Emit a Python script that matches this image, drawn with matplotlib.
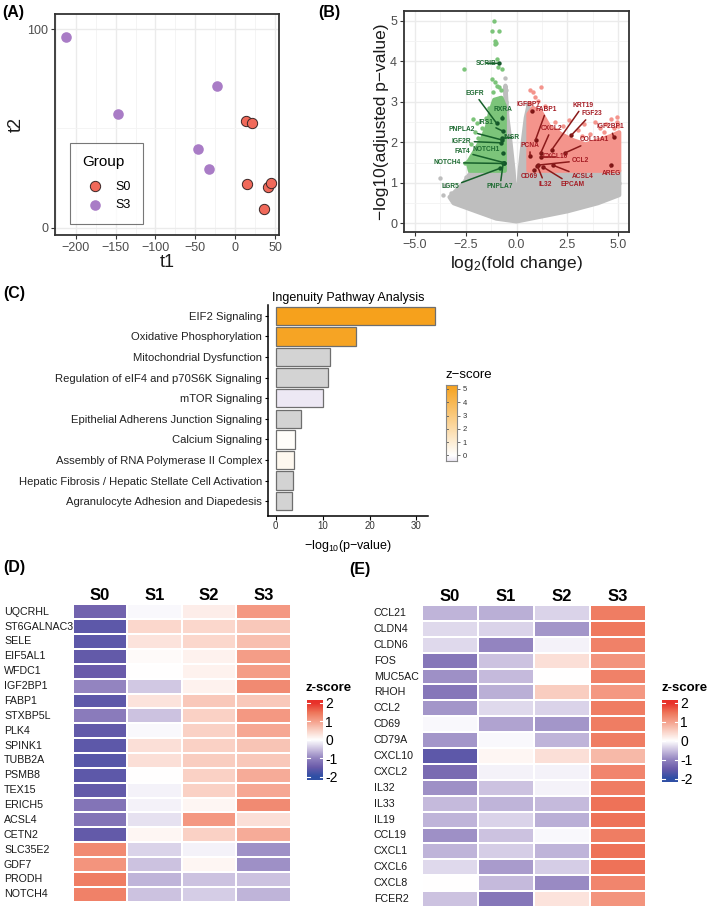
import numpy as np
import matplotlib
matplotlib.use("Agg")
import matplotlib.pyplot as plt
from matplotlib import font_manager
from matplotlib import transforms
from matplotlib.colors import LinearSegmentedColormap, Normalize

# ---------------- data ----------------
# (A) PCA scores
pca_t1_s0 = [14.0, 20.7, 14.8, 40.8, 45.0, 36.2]
pca_t2_s0 = [53.6, 52.9, 21.8, 20.7, 22.5, 9.4]
pca_t1_s3 = [-212.0, -147.0, -23.0, -46.0, -32.5]
pca_t2_s3 = [96.3, 57.3, 71.4, 39.7, 29.6]

# (B) volcano: outline of the dense non-significant cloud, dense significant areas, sparse points
gray_cloud_x = [-3.3, -3.1, -2.0, -1.0, 0.0, 1.0, 2.5, 4.0, 5.05, 5.05, 0.58, 0.58, 0.45, 0.3,
                0.15, 0.0, -0.15, -0.3, -0.45, -0.55, -0.6, -2.2, -2.6, -3.0]
gray_cloud_y = [0.65, 0.5, 0.3, 0.12, 0.05, 0.15, 0.3, 0.5, 0.7, 1.3, 1.3, 2.9, 2.6, 2.0,
                1.3, 0.3, 1.3, 2.0, 2.6, 3.4, 1.3, 1.3, 1.0, 0.8]
gray_pts_x = [-3.77, -3.53, -2.95, -2.7, -2.29, -3.25, -0.55, -0.5, -0.52, -0.47, 0.5, 0.55,
              5.05, 5.0, -3.6, -2.5, -1.9]
gray_pts_y = [1.11, 0.95, 0.62, 0.95, 1.24, 0.75, 3.6, 3.3, 3.0, 2.8, 2.95, 2.75,
              1.0, 0.8, 0.7, 1.15, 1.25]

green_cloud_x = [-0.58, -2.3, -2.4, -2.1, -1.7, -1.45, -1.3, -1.1, -0.75, -0.58]
green_cloud_y = [1.3, 1.3, 1.5, 1.75, 2.1, 2.4, 2.75, 3.05, 3.1, 2.9]
green_pts_x = [-1.11, -1.2, -0.87, -1.08, -1.0, -1.05, -0.98, -2.57, -0.74, -0.9, -1.23, -1.05,
               -0.95, -0.85, -0.75, -1.15, -0.8, -0.7, -1.05, -2.16, -1.97, -2.46, -2.54,
               -1.7, -1.5, -2.25, -1.9, -1.35, -2.05]
green_pts_y = [4.99, 4.75, 4.75, 4.5, 4.45, 4.42, 4.05, 3.8, 3.8, 3.85, 3.56, 3.5,
               3.4, 3.37, 3.29, 3.25, 3.1, 3.0, 2.95, 2.57, 2.47, 1.52, 1.48,
               2.35, 2.6, 1.95, 2.1, 2.85, 2.25]

red_cloud_x = [0.58, 0.58, 0.8, 1.2, 1.6, 2.2, 2.8, 3.4, 4.0, 4.6, 5.05, 5.05]
red_cloud_y = [1.3, 2.7, 2.85, 2.75, 2.4, 2.2, 2.05, 1.95, 2.05, 2.15, 2.25, 1.3]
red_pts_x = [0.68, 0.8, 1.22, 0.9, 1.05, 0.65, 1.4, 1.9, 2.3, 2.6, 3.0, 3.3, 3.6, 3.85,
             4.1, 4.4, 4.62, 4.95, 4.95, 4.8, 5.0, 3.2, 2.0, 4.3]
red_pts_y = [3.3, 3.25, 3.36, 3.12, 3.02, 2.98, 2.9, 2.5, 2.4, 2.55, 2.3, 2.45, 2.2, 2.5,
             2.35, 2.45, 2.58, 2.62, 2.5, 2.35, 2.4, 2.15, 2.3, 2.25]

down_genes = ["SCRIB", "EGFR", "RXRA", "IRS1", "PNPLA2", "INSR", "IGF2R", "NOTCH1",
              "FAT4", "NOTCH4", "LGR5", "PNPLA7"]
down_fc = [-0.85, -0.98, -0.7, -0.69, -0.72, -0.74, -0.79, -0.66, -0.62, -0.62, -0.82, -0.66]
down_p = [3.95, 2.47, 2.59, 2.28, 2.06, 2.1, 1.99, 1.73, 1.5, 1.48, 1.36, 1.48]
down_lab_x = [-1.48, -2.08, -0.66, -1.52, -2.7, -0.25, -2.7, -1.51, -2.67, -3.41, -3.28, -0.82]
down_lab_y = [3.95, 3.21, 2.8, 2.48, 2.32, 2.12, 2.03, 1.83, 1.77, 1.5, 0.9, 0.9]

up_genes = ["IGFBP7", "FABP1", "KRT19", "FGF23", "IGF2BP1", "COL11A1", "CXCL2", "PCNA",
            "CXCL10", "CCL2", "CD69", "IL32", "EPCAM", "ACSL4", "AREG"]
up_fc = [0.75, 0.93, 1.72, 2.7, 4.77, 2.38, 1.18, 0.66, 1.18, 1.07, 0.85, 1.02, 1.28, 1.77, 4.62]
up_p = [2.77, 2.06, 1.81, 2.18, 2.14, 1.74, 1.73, 1.66, 1.64, 1.44, 1.32, 1.42, 1.40, 1.44, 1.44]
up_lab_x = [0.61, 1.48, 3.28, 3.69, 4.62, 3.85, 1.72, 0.66, 1.93, 3.15, 0.61, 1.39, 2.74, 3.25, 4.67]
up_lab_y = [2.94, 2.82, 2.92, 2.71, 2.38, 2.07, 2.34, 1.92, 1.64, 1.55, 1.15, 0.97, 0.95, 1.15, 1.24]

# (C) IPA
pathways = ["EIF2 Signaling", "Oxidative Phosphorylation", "Mitochondrial Dysfunction",
            "Regulation of eIF4 and p70S6K Signaling", "mTOR Signaling",
            "Epithelial Adherens Junction Signaling", "Calcium Signaling",
            "Assembly of RNA Polymerase II Complex",
            "Hepatic Fibrosis / Hepatic Stellate Cell Activation",
            "Agranulocyte Adhesion and Diapedesis"]
neglogp = [33.9, 17.2, 11.6, 11.1, 10.0, 5.4, 4.1, 3.8, 3.7, 3.55]
pathway_z = [5.3, 5.1, np.nan, np.nan, -0.4, np.nan, 0.15, 0.4, np.nan, np.nan]

# (D) heatmap
stages = ["S0", "S1", "S2", "S3"]
genes_d = ["UQCRHL", "ST6GALNAC3", "SELE", "EIF5AL1", "WFDC1", "IGF2BP1", "FABP1", "STXBP5L",
           "PLK4", "SPINK1", "TUBB2A", "PSMB8", "TEX15", "ERICH5", "ACSL4", "CETN2",
           "SLC35E2", "GDF7", "PRODH", "NOTCH4"]
z_d = [[-1.4, -0.05, 0.2, 1.1],
       [-1.6, 0.45, 0.45, 0.6],
       [-1.6, 0.3, 0.45, 0.7],
       [-1.55, 0.05, 0.15, 1.05],
       [-1.5, 0.0, 0.15, 1.05],
       [-1.0, -0.45, 0.15, 1.25],
       [-1.6, 0.3, 0.6, 0.6],
       [-1.1, -0.5, 0.5, 1.1],
       [-1.55, -0.05, 0.5, 0.95],
       [-1.6, 0.35, 0.5, 0.65],
       [-1.65, 0.35, 0.55, 0.6],
       [-1.6, 0.0, 0.5, 0.9],
       [-1.55, -0.1, 0.5, 0.95],
       [-1.2, -0.1, 0.1, 1.25],
       [-1.2, -0.25, 1.1, 0.35],
       [-1.55, 0.1, 0.5, 0.9],
       [1.25, -0.35, -0.1, -0.9],
       [1.15, -0.5, 0.1, -0.9],
       [1.4, -0.6, -0.5, -0.5],
       [1.35, -0.5, -0.4, -0.6]]

# (E) heatmap
genes_e = ["CCL21", "CLDN4", "CLDN6", "FOS", "MUC5AC", "RHOH", "CCL2", "CD69", "CD79A",
           "CXCL10", "CXCL2", "IL32", "IL33", "IL19", "CCL19", "CXCL1", "CXCL6", "CXCL8", "FCER2"]
z_e = [[-0.6, -0.65, -0.35, 1.4],
       [-0.3, -0.35, -0.85, 1.45],
       [-0.3, -1.0, -0.1, 1.35],
       [-1.15, -0.5, 0.35, 1.15],
       [-0.9, -0.55, 0.0, 1.35],
       [-1.15, -0.65, 0.55, 1.1],
       [-0.85, -0.3, -0.35, 1.4],
       [-0.05, -0.75, -0.85, 1.4],
       [-0.85, -0.05, -0.6, 1.4],
       [-1.6, 0.1, 0.35, 0.75],
       [-1.3, -0.1, -0.1, 1.3],
       [-0.9, -0.5, -0.1, 1.4],
       [-0.55, -0.6, -0.55, 1.5],
       [-0.6, -0.35, -0.65, 1.5],
       [-0.9, -0.5, -0.05, 1.4],
       [-0.6, -0.4, -0.6, 1.5],
       [-0.3, -0.8, -0.4, 1.5],
       [0.0, -0.55, -0.95, 1.3],
       [-0.5, -1.15, 0.3, 1.15]]

# ---------------- style ----------------
W, H = 709, 911
plt.rcParams['font.family'] = ['Liberation Sans', 'DejaVu Sans']
plt.rcParams['mathtext.default'] = 'regular'
names = {f.name for f in font_manager.fontManager.ttflist}
NARROW = 'Liberation Sans Narrow' if 'Liberation Sans Narrow' in names else 'Liberation Sans'

GRID = '#EBEBEB'
TICKCOL = '#4D4D4D'
GRAY = '#BEBEBE'

fig = plt.figure(figsize=(W / 100, H / 100), dpi=100)


def px_axes(left, top, right, bottom):
    return fig.add_axes([left / W, 1 - bottom / H, (right - left) / W, (bottom - top) / H])


def bw_theme(ax):
    ax.set_axisbelow(True)
    ax.grid(which='major', color=GRID, lw=1.0)
    ax.grid(which='minor', color='#F3F3F3', lw=0.6)
    for s in ax.spines.values():
        s.set_color('#333333')
        s.set_linewidth(1.3)
    ax.tick_params(which='minor', length=0)
    ax.tick_params(which='major', length=3, width=0.8, color='#333333',
                   labelsize=9, labelcolor=TICKCOL, pad=2)


def panel_tag(x, y, s):
    fig.text(x / W, 1 - y / H, s, fontsize=11.5, fontweight='bold', va='top', ha='left')


# ---------------- (A) PCA ----------------
axa = px_axes(55, 14, 279, 235)
bw_theme(axa)
axa.set_xlim(-226, 55)
axa.set_ylim(-3.7, 107.7)
axa.set_xticks([-200, -150, -100, -50, 0, 50])
axa.set_xticks(np.arange(-225, 56, 25), minor=True)
axa.set_yticks([0, 100])
axa.set_yticks([50], minor=True)
axa.scatter(pca_t1_s0, pca_t2_s0, s=55, color='#F0695A', edgecolor='#3A2626', lw=0.7,
            zorder=3, label='S0')
axa.scatter(pca_t1_s3, pca_t2_s3, s=58, color='#A97CC6', lw=0, zorder=3, label='S3')
axa.set_xlabel('t1', fontsize=13, color='#1A1A1A', labelpad=0)
axa.set_ylabel('t2', fontsize=13, color='#1A1A1A', labelpad=2)
leg = axa.legend(title='Group', loc='lower left', bbox_to_anchor=(0.067, 0.05),
                 fontsize=9, title_fontsize=11, frameon=True, fancybox=False,
                 borderpad=1.0, labelspacing=0.55, handletextpad=0.6, borderaxespad=0)
leg.get_frame().set_edgecolor('#555555')
leg.get_frame().set_linewidth(0.8)
leg._legend_box.align = 'left'
leg._legend_box.sep = 8
panel_tag(2, 5, '(A)')

# ---------------- (B) volcano ----------------
axb = px_axes(404, 11, 629, 232)
bw_theme(axb)
axb.set_xlim(-5.54, 5.53)
axb.set_ylim(-0.21, 5.24)
axb.set_xticks([-5, -2.5, 0, 2.5, 5])
axb.set_xticklabels(['−5.0', '−2.5', '0.0', '2.5', '5.0'])
axb.set_xticks([-3.75, -1.25, 1.25, 3.75], minor=True)
axb.set_yticks([0, 1, 2, 3, 4, 5])
axb.set_yticks([0.5, 1.5, 2.5, 3.5, 4.5], minor=True)

axb.fill(gray_cloud_x, gray_cloud_y, facecolor=GRAY, edgecolor=GRAY, lw=3,
         joinstyle='round', zorder=1)
axb.scatter(gray_pts_x, gray_pts_y, s=10, color=GRAY, lw=0, zorder=1)
axb.fill(green_cloud_x, green_cloud_y, facecolor='#7CC47A', edgecolor='#7CC47A', lw=3,
         joinstyle='round', zorder=2)
axb.scatter(green_pts_x, green_pts_y, s=10, color='#7CC47A', lw=0, zorder=2)
axb.fill(red_cloud_x, red_cloud_y, facecolor='#F4948C', edgecolor='#F4948C', lw=3,
         joinstyle='round', zorder=2)
axb.scatter(red_pts_x, red_pts_y, s=10, color='#F4948C', lw=0, zorder=2)

axb.scatter(down_fc, down_p, s=10, color='#14562A', lw=0, zorder=4)
axb.scatter(up_fc, up_p, s=10, color='#7A1414', lw=0, zorder=4)
for g, px, py, lx, ly in zip(down_genes, down_fc, down_p, down_lab_x, down_lab_y):
    axb.annotate(g, xy=(px, py), xytext=(lx, ly), fontsize=4.8, fontweight='bold',
                 color='#1E6B32', ha='center', va='center', zorder=5,
                 arrowprops=dict(arrowstyle='-', color='#17602B', lw=1.1,
                                 shrinkA=0, shrinkB=0))
for g, px, py, lx, ly in zip(up_genes, up_fc, up_p, up_lab_x, up_lab_y):
    axb.annotate(g, xy=(px, py), xytext=(lx, ly), fontsize=4.8, fontweight='bold',
                 color='#A51C24', ha='center', va='center', zorder=5,
                 arrowprops=dict(arrowstyle='-', color='#8B1A1A', lw=1.1,
                                 shrinkA=0, shrinkB=0))
axb.set_xlabel('log$_2$(fold change)', fontsize=12.5, color='#1A1A1A', labelpad=2)
axb.set_ylabel('−log10(adjusted p−value)', fontsize=12.5, color='#1A1A1A', labelpad=1)
panel_tag(318, 5, '(B)')

# ---------------- (C) IPA bars ----------------
c_cmap = LinearSegmentedColormap.from_list(
    'ipa', [(0.0, '#EDE8F4'), (0.4 / 5.7, '#FFFFFF'), (1.0, '#F6A11C')])
c_norm = Normalize(-0.4, 5.3)
bar_cols = ['#D3D3D3' if np.isnan(z) else c_cmap(c_norm(z)) for z in pathway_z]

axc = px_axes(268.3, 305, 427.7, 515.7)
ypos = np.arange(len(pathways))
axc.barh(ypos, neglogp, height=0.9, color=bar_cols, edgecolor='#6E6E6E', lw=0.9,
         clip_on=False)
axc.set_ylim(9.71, -0.53)
axc.set_xlim(-1.58, 32.4)
axc.spines['top'].set_visible(False)
axc.spines['right'].set_visible(False)
axc.spines['left'].set_linewidth(1.1)
axc.spines['bottom'].set_linewidth(1.1)
axc.set_yticks(ypos)
axc.set_yticklabels(pathways, fontsize=8.1, family=[NARROW, 'DejaVu Sans'], color='#222222')
axc.set_xticks([0, 10, 20, 30])
axc.tick_params(axis='x', labelsize=7, labelcolor='#333333', length=3, pad=1)
axc.tick_params(axis='y', length=2.5, pad=2)
axc.set_title('Ingenuity Pathway Analysis', fontsize=9, family=[NARROW, 'DejaVu Sans'], pad=3)
axc.set_xlabel('−log$_{10}$(p−value)', fontsize=9, family=[NARROW, 'DejaVu Sans'], labelpad=5)
panel_tag(3, 286, '(C)')

axcb = px_axes(445.7, 385, 457.3, 460.7)
grad = np.linspace(-0.4, 5.3, 200).reshape(-1, 1)
axcb.imshow(grad, extent=[0, 1, -0.4, 5.3], origin='lower', aspect='auto',
            cmap=c_cmap, norm=c_norm)
axcb.set_xticks([])
axcb.yaxis.tick_right()
axcb.set_yticks([0, 1, 2, 3, 4, 5])
axcb.tick_params(axis='y', labelsize=5.5, length=2, width=0.6, color='#555555', pad=2,
                 labelcolor='#333333')
for s in axcb.spines.values():
    s.set_color('#888888')
    s.set_linewidth(0.8)
for v in range(6):
    axcb.plot([0, 0.2], [v, v], color='#555555', lw=0.6)
fig.text(445 / W, 1 - 375 / H, 'z−score', fontsize=9.5, va='center', ha='left',
         family=[NARROW, 'DejaVu Sans'])

# ---------------- heatmaps ----------------
hm_cmap = LinearSegmentedColormap.from_list('zs', [
    (0.0, '#2F4FA5'), (0.125, '#6A5BAA'), (0.25, '#9384C0'), (0.375, '#CBC1E0'),
    (0.5, '#FFFFFF'), (0.625, '#FAD2C6'), (0.75, '#F5A28D'), (0.875, '#EE7459'),
    (1.0, '#E8312A')])
hm_norm = Normalize(-2, 2, clip=True)


def heatmap(box, genes, vals, label_x, cbar_box, title_x):
    ax = px_axes(*box)
    n = len(genes)
    ax.pcolormesh(np.arange(5), np.arange(n + 1), np.array(vals), cmap=hm_cmap,
                  norm=hm_norm, edgecolors='white', linewidth=1.3)
    ax.set_xlim(0, 4)
    ax.set_ylim(n, 0)
    for s in ax.spines.values():
        s.set_visible(False)
    ax.xaxis.tick_top()
    ax.set_xticks(np.arange(4) + 0.5)
    ax.set_xticklabels(stages, fontsize=12, fontweight='bold')
    ax.tick_params(axis='x', length=0, pad=1)
    ax.set_yticks([])
    tr = transforms.blended_transform_factory(fig.transFigure, ax.transData)
    for i, g in enumerate(genes):
        ax.text(label_x / W, i + 0.5, g, transform=tr, ha='left', va='center',
                fontsize=7.7, color='#1A1A1A')

    cb = px_axes(*cbar_box)
    g2 = np.linspace(-2.18, 2.15, 200).reshape(-1, 1)
    cb.imshow(g2, extent=[0, 1, -2.18, 2.15], origin='lower', aspect='auto',
              cmap=hm_cmap, norm=hm_norm)
    for s in cb.spines.values():
        s.set_visible(False)
    cb.set_xticks([])
    cb.yaxis.tick_right()
    cb.set_yticks([-2, -1, 0, 1, 2])
    cb.set_yticklabels(['-2', '-1', '0', '1', '2'])
    cb.tick_params(axis='y', labelsize=10, length=0, pad=1.5)
    for v in range(-2, 3):
        cb.plot([0, 0.2], [v, v], color='white', lw=0.8)
        cb.plot([0.8, 1], [v, v], color='white', lw=0.8)
    fig.text(title_x / W, 1 - 688 / H, 'z-score', fontsize=9.5, fontweight='bold',
             va='center', ha='left')
    return ax


heatmap((72.7, 604.3, 291, 901.7), genes_d, z_d, 4, (307, 700, 323, 780), 306)
panel_tag(3, 560, '(D)')
heatmap((421.7, 605, 646, 907), genes_e, z_e, 374, (662, 700, 678, 782), 661)
panel_tag(349, 562, '(E)')

fig.savefig('out.png', dpi=100)
